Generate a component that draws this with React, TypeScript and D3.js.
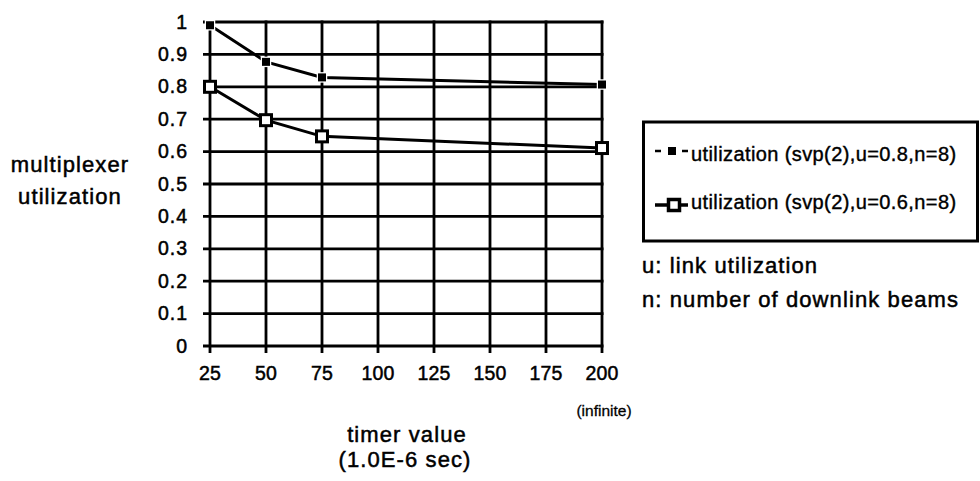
import React from "react";
import * as d3 from "d3";

const timers = [25, 50, 75, 200];
const util08 = [0.99, 0.877, 0.829, 0.807];
const util06 = [0.8, 0.697, 0.647, 0.611];
const xTicks = [25, 50, 75, 100, 125, 150, 175, 200];
const yTicks = [0, 0.1, 0.2, 0.3, 0.4, 0.5, 0.6, 0.7, 0.8, 0.9, 1];
const legendLabels = ["utilization (svp(2),u=0.8,n=8)", "utilization (svp(2),u=0.6,n=8)"];
const notes = ["u: link utilization", "n: number of downlink beams"];

const W = 980, H = 481;
const L = 210, R = 602, T = 22, B = 346;
const font = "Liberation Sans, Arial, Helvetica, sans-serif";

export default function App() {
  const x = d3.scaleLinear().domain([25, 200]).range([L, R]);
  const y = d3.scaleLinear().domain([0, 1]).range([B, T]);
  const line = d3.line<number>().x((_, i) => x(timers[i])).y((d) => y(d));
  const yfmt = (v: number) => (v === 0 || v === 1 ? String(v) : v.toFixed(1));
  return (
    <svg width={W} height={H} style={{ position: "absolute", left: 0, top: 0, background: "#fff" }} fontFamily={font}>
      {/* grid */}
      {yTicks.map((v) => (
        <line key={"gy" + v} x1={L - 7} x2={R + 1.5} y1={y(v)} y2={y(v)} stroke="#000" strokeWidth={2.8} />
      ))}
      {xTicks.map((v) => (
        <line key={"gx" + v} x1={x(v)} x2={x(v)} y1={T - 1.4} y2={B + 7} stroke="#000" strokeWidth={2.8} />
      ))}
      <g stroke="#000" strokeWidth={0.5}>
        {/* tick labels */}
        {yTicks.map((v) => (
          <text key={"ty" + v} x={188} y={y(v) + 6.5} textAnchor="end" fontSize={19.5} letterSpacing={1}>
            {yfmt(v)}
          </text>
        ))}
        {xTicks.map((v) => (
          <text key={"tx" + v} x={x(v)} y={380} textAnchor="middle" fontSize={19.5} letterSpacing={0.2}>
            {v}
          </text>
        ))}
        <text x={604} y={416} textAnchor="middle" fontSize={15.5} strokeWidth={0.3}>(infinite)</text>
        <text x={407} y={442} textAnchor="middle" fontSize={22} letterSpacing={1.1}>timer value</text>
        <text x={405} y={467} textAnchor="middle" fontSize={22} letterSpacing={1.1}>(1.0E-6 sec)</text>
        <text x={70} y={172} textAnchor="middle" fontSize={22} letterSpacing={1.1}>multiplexer</text>
        <text x={70} y={204} textAnchor="middle" fontSize={22} letterSpacing={1.1}>utilization</text>
      </g>

      {/* series */}
      <path d={line(util08) || ""} fill="none" stroke="#000" strokeWidth={3} />
      {util08.map((v, i) => (
        <rect key={"m1" + i} x={x(timers[i]) - 4} y={y(v) - 4} width={8} height={8} fill="#000" stroke="#fff" strokeWidth={2.5} paintOrder="stroke" />
      ))}
      <path d={line(util06) || ""} fill="none" stroke="#000" strokeWidth={3} />
      {util06.map((v, i) => (
        <rect key={"m2" + i} x={x(timers[i]) - 5.5} y={y(v) - 5.5} width={11} height={11} fill="#fff" stroke="#000" strokeWidth={3} />
      ))}

      {/* legend */}
      <rect x={643.5} y={122} width={334} height={119} fill="#fff" stroke="#000" strokeWidth={3} />
      <line x1={655} x2={661} y1={151} y2={151} stroke="#000" strokeWidth={2.5} />
      <line x1={682} x2={688} y1={151} y2={151} stroke="#000" strokeWidth={2.5} />
      <rect x={668} y={147} width={8} height={8} fill="#000" />
      <line x1={655} x2={688} y1={205} y2={205} stroke="#000" strokeWidth={3.5} />
      <rect x={668.5} y={199.5} width={11} height={11} fill="#fff" stroke="#000" strokeWidth={3.5} />
      <g stroke="#000" strokeWidth={0.4}>
        <text x={691} y={161} fontSize={20} letterSpacing={0.4}>{legendLabels[0]}</text>
        <text x={691} y={209} fontSize={20} letterSpacing={0.4}>{legendLabels[1]}</text>
        <text x={642} y={273} fontSize={22} letterSpacing={1.1} strokeWidth={0.5}>{notes[0]}</text>
        <text x={642} y={307} fontSize={22} letterSpacing={1.1} strokeWidth={0.5}>{notes[1]}</text>
      </g>
    </svg>
  );
}
